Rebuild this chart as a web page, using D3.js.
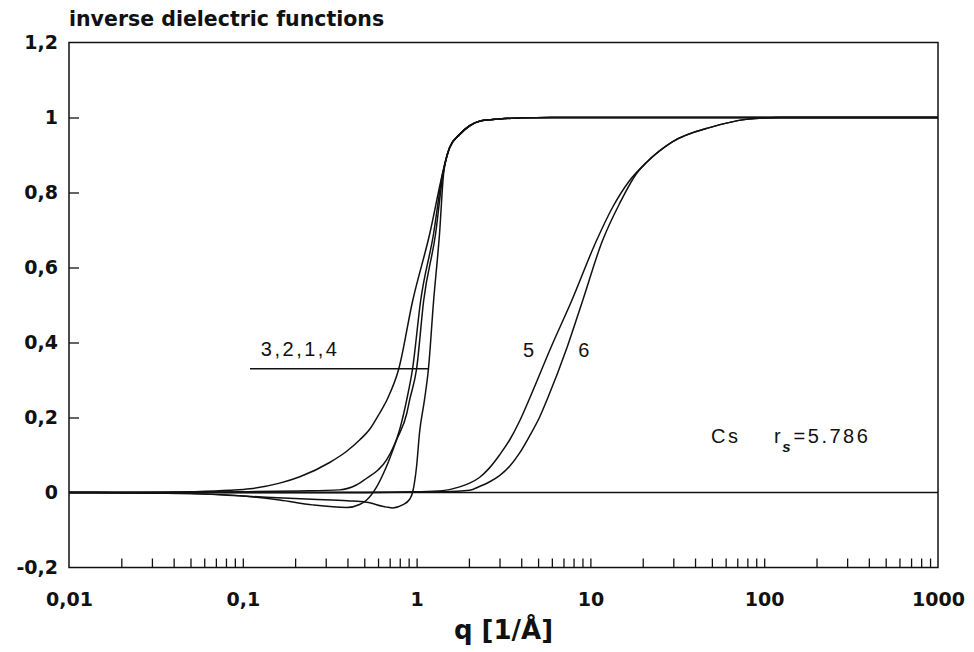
<!DOCTYPE html>
<html>
<head>
<meta charset="utf-8">
<script src="https://cdn.jsdelivr.net/npm/d3@7/dist/d3.min.js"></script>
<style>
  body { margin: 0; background: #fff; }
  svg { display: block; }
  .tick text { font-family: "DejaVu Sans", sans-serif; font-weight: bold; font-size: 19px; fill: #111; }
  .lbl { font-family: "Liberation Sans", Arial, sans-serif; font-size: 20px; fill: #111; letter-spacing: 2.5px; }
</style>
</head>
<body>
<svg id="chart" width="974" height="652"></svg>
<script>
// tick labels (comma decimals as in the original)
const xTicks = [0.01, 0.1, 1, 10, 100, 1000];
const xTickLabels = ["0,01", "0,1", "1", "10", "100", "1000"];
const yTicks = [-0.2, 0, 0.2, 0.4, 0.6, 0.8, 1, 1.2];
const yTickLabels = ["-0,2", "0", "0,2", "0,4", "0,6", "0,8", "1", "1,2"];

// curves: [q (1/Å), inverse dielectric function]
const curve3 = [[0.01,0],[0.03,0],[0.05,0.002],[0.084,0.006],[0.11,0.01],[0.163,0.025],[0.213,0.042],[0.316,0.08],[0.396,0.11],[0.47,0.14],[0.54,0.17],[0.61,0.21],[0.68,0.25],[0.79,0.33],[0.948,0.51],[1.19,0.69],[1.41,0.85],[1.55,0.92],[1.77,0.955],[2.02,0.978],[2.3,0.99],[3,0.996],[4,0.999],[6,1],[1000,1]];
const curve2 = [[0.01,0],[0.05,0.001],[0.1,0.002],[0.21,0.004],[0.36,0.007],[0.45,0.02],[0.516,0.038],[0.6,0.06],[0.672,0.087],[0.798,0.167],[0.877,0.247],[0.948,0.33],[1.054,0.51],[1.252,0.69],[1.41,0.85],[1.55,0.92],[1.77,0.955],[2.02,0.978],[2.3,0.99],[3,0.996],[4,0.999],[6,1],[1000,1]];
const curve1 = [[0.01,0],[0.05,-0.003],[0.105,-0.01],[0.163,-0.02],[0.252,-0.033],[0.396,-0.04],[0.47,-0.032],[0.516,-0.02],[0.589,0.015],[0.672,0.07],[0.767,0.14],[0.877,0.21],[0.912,0.247],[1.0,0.33],[1.097,0.51],[1.286,0.69],[1.42,0.85],[1.55,0.92],[1.77,0.955],[2.02,0.978],[2.3,0.99],[3,0.996],[4,0.999],[6,1],[1000,1]];
const curve4 = [[0.01,0],[0.05,-0.003],[0.105,-0.01],[0.25,-0.018],[0.4,-0.022],[0.516,-0.026],[0.672,-0.039],[0.728,-0.041],[0.83,-0.033],[0.912,-0.018],[0.948,0],[1.0,0.07],[1.04,0.16],[1.11,0.247],[1.17,0.33],[1.252,0.51],[1.355,0.69],[1.43,0.85],[1.55,0.92],[1.77,0.955],[2.02,0.978],[2.3,0.99],[3,0.996],[4,0.999],[6,1],[1000,1]];
const curve5 = [[0.01,0],[0.5,0],[1.0,0.002],[1.41,0.005],[1.77,0.015],[2.02,0.025],[2.3,0.04],[2.62,0.065],[3.0,0.1],[3.43,0.14],[3.91,0.19],[4.46,0.25],[5.97,0.39],[7.78,0.51],[10.8,0.67],[13.4,0.76],[16.7,0.83],[21,0.88],[29.6,0.935],[50.2,0.975],[78.8,0.995],[122,1],[1000,1]];
const curve6 = [[0.01,0],[0.5,0],[1.41,0.002],[2.02,0.006],[2.3,0.016],[2.62,0.028],[3.0,0.045],[3.43,0.07],[3.91,0.105],[4.46,0.15],[5.09,0.2],[5.66,0.25],[7.38,0.39],[9.0,0.51],[11.7,0.67],[14.7,0.77],[18.4,0.85],[21,0.88],[29.6,0.935],[50.2,0.975],[78.8,0.995],[122,1],[1000,1]];
const curves = [curve3, curve2, curve1, curve4, curve5, curve6];

// annotations in data units
const groupLine = [[0.11, 0.33], [1.17, 0.33]];
const textLabels = [
  { q: 0.127, v: 0.364, t: "3,2,1,4" },
  { q: 4.1, v: 0.361, t: "5" },
  { q: 8.5, v: 0.361, t: "6" },
  { q: 49.5, v: 0.132, t: "Cs" },
];

const svg = d3.select("#chart");
const marginLeft = 69, marginRight = 36, marginTop = 42.5, marginBottom = 84.5;
const W = 974, H = 652;

const x = d3.scaleLog().domain([0.01, 1000]).range([marginLeft, W - marginRight]);
const y = d3.scaleLinear().domain([-0.2, 1.2]).range([H - marginBottom, marginTop]);

// frame
svg.append("rect")
  .attr("x", x(0.01)).attr("y", y(1.2))
  .attr("width", x(1000) - x(0.01)).attr("height", y(-0.2) - y(1.2))
  .attr("fill", "none").attr("stroke", "#111").attr("stroke-width", 1.5);

// zero line
svg.append("line")
  .attr("x1", x(0.01)).attr("x2", x(1000))
  .attr("y1", y(0)).attr("y2", y(0))
  .attr("stroke", "#111").attr("stroke-width", 1.5);

// x axis: minor ticks pointing up, then labelled majors
const minorX = [];
for (let e = -2; e < 3; e++) {
  for (let m = 2; m <= 9; m++) minorX.push(m * Math.pow(10, e));
}
svg.append("g")
  .attr("transform", `translate(0,${y(-0.2)})`)
  .call(d3.axisBottom(x).tickValues(minorX).tickSize(-9).tickFormat(""))
  .call((g) => g.select(".domain").remove())
  .call((g) => g.selectAll("line").attr("stroke", "#111").attr("stroke-width", 1.3));

svg.append("g")
  .attr("transform", `translate(0,${y(-0.2)})`)
  .call(d3.axisBottom(x).tickValues(xTicks).tickSize(-9).tickPadding(25)
    .tickFormat((d, i) => xTickLabels[i]))
  .call((g) => g.select(".domain").remove())
  .call((g) => g.selectAll("line").attr("stroke", "#111").attr("stroke-width", 1.3)
    .attr("display", (d) => (d === 0.01 || d === 1000 ? "none" : null)));

// y axis
svg.append("g")
  .attr("transform", `translate(${x(0.01)},0)`)
  .call(d3.axisLeft(y).tickValues(yTicks).tickSize(-10).tickPadding(11)
    .tickFormat((d, i) => yTickLabels[i]))
  .call((g) => g.select(".domain").remove())
  .call((g) => g.selectAll("line").attr("stroke", "#111").attr("stroke-width", 1.3)
    .attr("display", (d) => (d === -0.2 || d === 1.2 || d === 0 ? "none" : null)));

// curves
const line = d3.line()
  .x((d) => x(d[0]))
  .y((d) => y(d[1]))
  .curve(d3.curveMonotoneX);

svg.append("g")
  .selectAll("path")
  .data(curves)
  .join("path")
  .attr("d", line)
  .attr("fill", "none")
  .attr("stroke", "#111")
  .attr("stroke-width", 1.5);

// label line for curves 3,2,1,4
svg.append("path")
  .attr("d", d3.line().x((d) => x(d[0])).y((d) => y(d[1]))(groupLine))
  .attr("stroke", "#111").attr("stroke-width", 1.5);

svg.append("g")
  .selectAll("text")
  .data(textLabels)
  .join("text")
  .attr("class", "lbl")
  .attr("x", (d) => x(d.q))
  .attr("y", (d) => y(d.v))
  .text((d) => d.t);

// r_s = 5.786
const rs = svg.append("text").attr("class", "lbl")
  .attr("x", x(114)).attr("y", y(0.132));
rs.append("tspan").text("r");
rs.append("tspan").attr("dy", 9).attr("font-size", 15).attr("font-style", "italic")
  .attr("font-weight", "bold").attr("letter-spacing", 0).attr("dx", -1).text("s");
rs.append("tspan").attr("dy", -9).attr("dx", 3).text("=5.786");

// title
svg.append("text")
  .attr("x", x(0.01)).attr("y", 26)
  .attr("font-family", "DejaVu Sans, sans-serif").attr("font-weight", "bold")
  .attr("font-size", 20.5).attr("fill", "#111")
  .text("inverse dielectric functions");

// x axis title
svg.append("text")
  .attr("x", (x(0.01) + x(1000)) / 2).attr("y", 639)
  .attr("text-anchor", "middle")
  .attr("font-family", "DejaVu Sans, sans-serif").attr("font-weight", "bold")
  .attr("font-size", 26).attr("fill", "#111")
  .text("q [1/Å]");
</script>
</body>
</html>
